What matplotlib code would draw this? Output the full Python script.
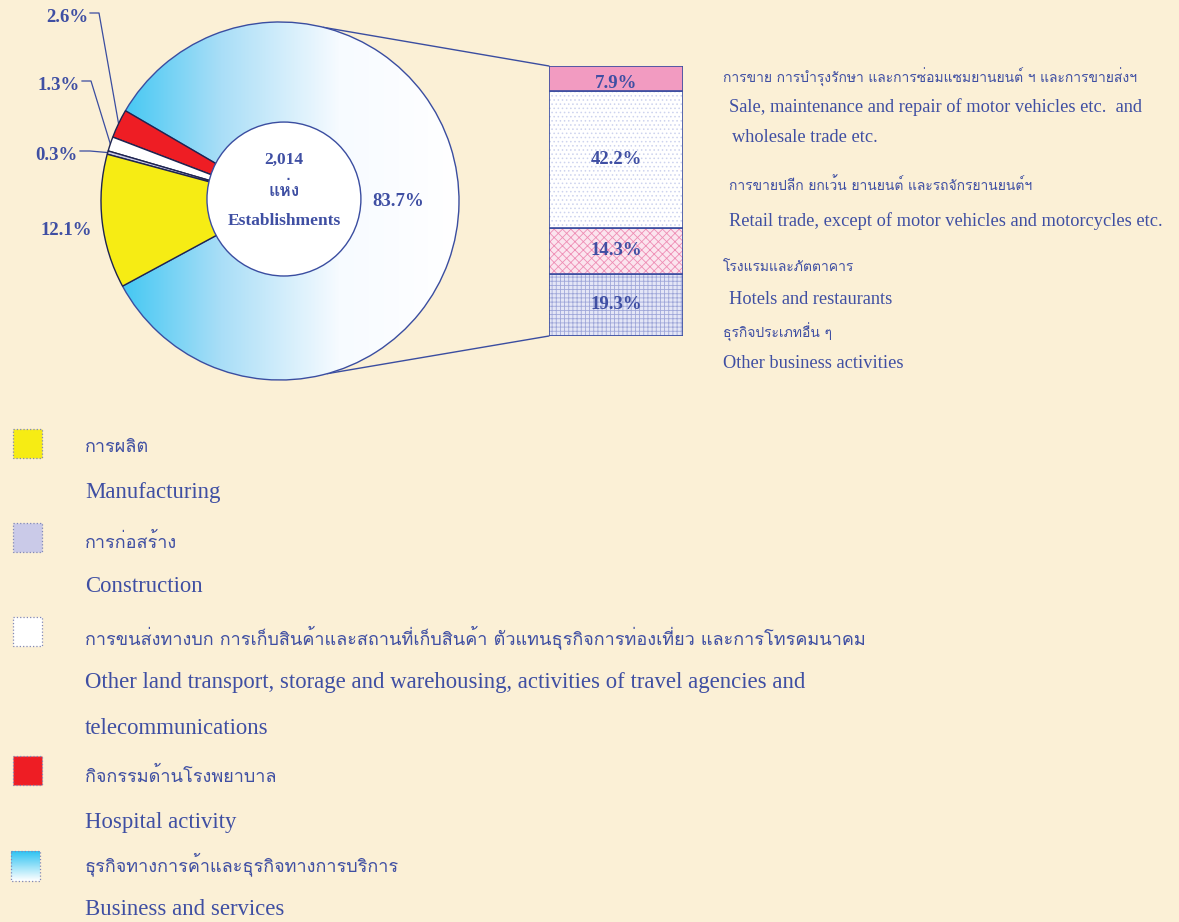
import numpy as np
import matplotlib
matplotlib.use('Agg')
import matplotlib.pyplot as plt
from matplotlib import font_manager
from matplotlib.ft2font import FT2Font
from matplotlib.patches import Circle, Rectangle, ConnectionPatch
from matplotlib.colors import LinearSegmentedColormap

# pie: business & services first, then going counter-clockwise
pie_labels = ['Business and services', 'Hospital activity',
              'Other land transport', 'Construction', 'Manufacturing']
pie_values = [83.7, 2.6, 1.3, 0.3, 12.1]
pie_colors = ['none', '#EE1D24', '#FFFFFF', '#C9C9E6', '#F6EC14']

# bar of pie, bottom to top
bar_values = [19.3, 14.3, 42.2, 7.9]
bar_faces = ['#E4E6F6', '#FBE4EE', '#FFFFFF', '#F29BC1']
bar_hatch_colors = ['#9FA7D9', '#EE8DB4', '#CDD3EE', '#F29BC1']
bar_hatches = ['++++', 'xxxx', '....', None]

total_text = ['2,014', 'แห่ง', 'Establishments']

right_legend = [
    ('การขาย การบำรุงรักษา และการซ่อมแซมยานยนต์ ฯ และการขายส่งฯ', 'th', 723, 77),
    ('Sale, maintenance and repair of motor vehicles etc.  and', 'en', 729, 107),
    ('wholesale trade etc.', 'en', 732, 138),
    ('การขายปลีก ยกเว้น ยานยนต์ และรถจักรยานยนต์ฯ', 'th', 729, 185),
    ('Retail trade, except of motor vehicles and motorcycles etc.', 'en', 729, 221),
    ('โรงแรมและภัตตาคาร', 'th', 723, 267),
    ('Hotels and restaurants', 'en', 729, 299),
    ('ธุรกิจประเภทอื่น ๆ', 'th', 723, 332),
    ('Other business activities', 'en', 723, 363),
]

legend_thai = ['การผลิต', 'การก่อสร้าง',
               'การขนส่งทางบก การเก็บสินค้าและสถานที่เก็บสินค้า ตัวแทนธุรกิจการท่องเที่ยว และการโทรคมนาคม',
               'กิจกรรมด้านโรงพยาบาล', 'ธุรกิจทางการค้าและธุรกิจทางการบริการ']
legend_eng = [['Manufacturing'], ['Construction'],
              ['Other land transport, storage and warehousing, activities of travel agencies and',
               'telecommunications'],
              ['Hospital activity'], ['Business and services']]
legend_colors = ['#F6EC14', '#CACAE8', '#FFFFFF', '#EE1D24', 'gradient']

BG = '#FBF0D6'
BLUE = '#3F4FA3'
EDGE = '#3A4DA0'


def find_thai_font():
    found = []
    for f in font_manager.fontManager.ttflist:
        try:
            if 0x0E01 in FT2Font(f.fname).get_charmap():
                found.append(f.name)
        except Exception:
            pass
    return found[0] if found else 'DejaVu Sans'


thai_font = find_thai_font()
serif = ['Liberation Serif', 'DejaVu Serif']
thai = [thai_font, 'Liberation Serif', 'DejaVu Sans']

fig = plt.figure(figsize=(11.79, 9.22), dpi=100, facecolor=BG)
W, H = 1179, 922

# background axes in pixel units for texts
bg = fig.add_axes([0, 0, 1, 1], zorder=0)
bg.set_xlim(0, W)
bg.set_ylim(H, 0)
bg.axis('off')

# pie
cx, cy, r = 280, 201, 179
ax_pie = fig.add_axes([(cx - r) / W, (H - cy - r) / H, 2 * r / W, 2 * r / H], zorder=2)
wedges, _ = ax_pie.pie(pie_values, colors=pie_colors, startangle=208.4,
                       counterclock=True,
                       wedgeprops=dict(linewidth=1.0, edgecolor=EDGE))
for w in wedges[1:]:
    w.set_edgecolor('#1E2450')
for w in wedges:
    w.set_clip_on(False)

cmap = LinearSegmentedColormap.from_list('blu', ['#2EC3F2', '#A9DEF7', '#F7FBFF', '#FFFFFF'])
grad = np.linspace(0, 1, 256).reshape(1, -1)
im = ax_pie.imshow(grad, cmap=cmap, extent=(-1, 1, -1, 1), aspect='auto', zorder=0)
im.set_clip_path(wedges[0])
ax_pie.set_xlim(-1, 1)
ax_pie.set_ylim(-1, 1)

ax_pie.add_patch(Circle((0.022, 0.011), 0.43, facecolor='white', edgecolor=EDGE,
                        linewidth=1.0, zorder=5))
for txt, yy in zip(total_text, [0.23, 0.06, -0.11]):
    ax_pie.text(0.022, yy, txt, ha='center', va='center', color=BLUE, fontsize=12.5,
                fontweight='bold', family=thai if txt == 'แห่ง' else serif, zorder=6)
ax_pie.text(0.66, 0.0, f'{pie_values[0]}%', ha='center', va='center', color=BLUE,
            fontsize=13.5, fontweight='bold', family=serif, zorder=6)

# percentage labels on the left with leader lines
to_bg = lambda p: bg.transData.inverted().transform(ax_pie.transData.transform(p))
angles = np.cumsum([0] + pie_values) / 100 * 360 + 208.4
mid = [(a0 + a1) / 2 for a0, a1 in zip(angles[:-1], angles[1:])]
label_pos = {1: (88, 17, 99), 2: (80, 85, 91), 3: (78, 155, 90)}
for i, (tx, ty, sx) in label_pos.items():
    bg.text(tx, ty, f'{pie_values[i]}%', ha='right', va='center', color=BLUE,
            fontsize=13.5, fontweight='bold', family=serif)
    a = np.deg2rad(mid[i])
    px, py = to_bg((np.cos(a), np.sin(a)))
    bg.plot([tx + 2, sx, px], [ty - 4, ty - 4, py], color=EDGE, lw=0.9)
bg.text(92, 230, f'{pie_values[4]}%', ha='right', va='center', color=BLUE,
        fontsize=13.5, fontweight='bold', family=serif)

# stacked bar
ax_bar = fig.add_axes([549 / W, (H - 336) / H, 134 / W, 270 / H], zorder=2)
plt.rcParams['hatch.linewidth'] = 0.6
bottom = 0
for v, fc, hc, ht in zip(bar_values, bar_faces, bar_hatch_colors, bar_hatches):
    ax_bar.bar(0.5, v, width=1, bottom=bottom, color=fc, edgecolor=hc, hatch=ht,
               linewidth=0)
    ax_bar.bar(0.5, v, width=1, bottom=bottom, fill=False, edgecolor=EDGE, linewidth=1.2)
    yy = bottom + v / 2 if v > 10 else bottom + v * 0.3
    ax_bar.text(0.5, yy, f'{v}%', ha='center', va='center', color=BLUE,
                fontsize=13.5, fontweight='bold', family=serif)
    bottom += v
ax_bar.set_xlim(0, 1)
ax_bar.set_ylim(0, sum(bar_values))
ax_bar.axis('off')

# connector lines from the pie to the bar
for ang, yb in [(76, sum(bar_values)), (-74.7, 0)]:
    a = np.deg2rad(ang)
    con = ConnectionPatch(xyA=(np.cos(a), np.sin(a)), coordsA=ax_pie.transData,
                          xyB=(0, yb), coordsB=ax_bar.transData, color=EDGE, lw=1.0)
    fig.add_artist(con)

# right legend
for txt, kind, x, y in right_legend:
    if kind == 'th':
        bg.text(x, y, txt, ha='left', va='center', color=BLUE, fontsize=10, family=thai)
    else:
        bg.text(x, y, txt, ha='left', va='center', color=BLUE, fontsize=13.2, family=serif)

# bottom legend
thai_y = [447, 542, 637, 776, 864]
eng_y = [[492], [586], [682, 728], [822], [909]]
box_y = [429, 523, 617, 756, 851]
for th, en, col, ty, ey, by in zip(legend_thai, legend_eng, legend_colors, thai_y, eng_y, box_y):
    if col == 'gradient':
        g = np.linspace(0, 1, 64).reshape(-1, 1)
        bg.imshow(g, cmap=LinearSegmentedColormap.from_list('v', ['#2EC3F2', '#FFFFFF']),
                  extent=(11, 40, by + 30, by), aspect='auto', zorder=1)
        bg.add_patch(Rectangle((11, by), 29, 30, fill=False, edgecolor='#8088B8',
                               linestyle=':', linewidth=0.9, zorder=2))
    else:
        bg.add_patch(Rectangle((13, by), 29, 29, facecolor=col, edgecolor='#8088B8',
                               linestyle=':', linewidth=0.9))
    bg.text(85, ty, th, ha='left', va='center', color=BLUE, fontsize=13, family=thai)
    for line, yy in zip(en, ey):
        bg.text(85, yy, line, ha='left', va='center', color=BLUE, fontsize=16.4, family=serif)
bg.set_xlim(0, W)
bg.set_ylim(H, 0)

fig.savefig('out.png', dpi=100, facecolor=BG)
